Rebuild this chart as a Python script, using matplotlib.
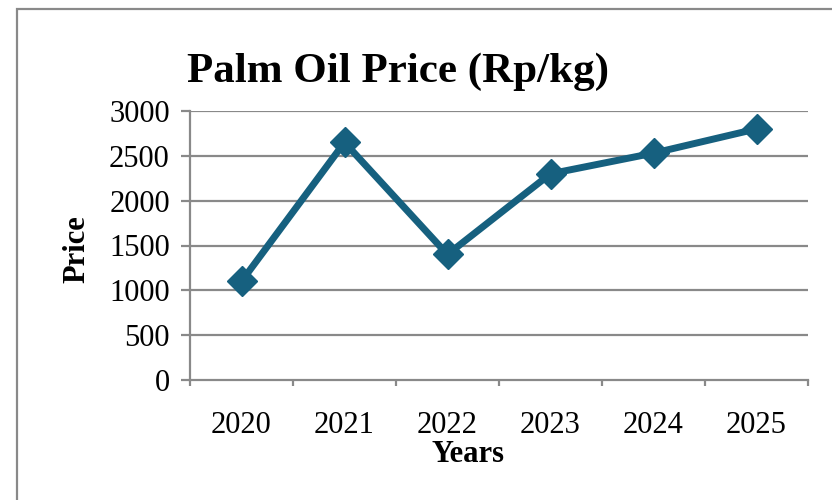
import matplotlib
matplotlib.use("Agg")
import matplotlib.pyplot as plt
import numpy as np
from matplotlib.patches import Rectangle

# datos
years = ["2020", "2021", "2022", "2023", "2024", "2025"]
price = [1100, 2650, 1400, 2300, 2530, 2800]
yticks = [0, 500, 1000, 1500, 2000, 2500, 3000]

plt.rcParams['font.family'] = ['Liberation Serif', 'DejaVu Serif']

gris = '#898989'
azul = '#16607f'

fig = plt.figure(figsize=(8.32, 5), dpi=100)
ax = fig.add_axes([190/832, 1 - 380/500, (808 - 190)/832, (380 - 111)/500])

x = np.arange(len(years))
ax.plot(x, price, color=azul, lw=5, marker='D', markersize=15,
        markeredgecolor=azul, solid_joinstyle='miter', zorder=3)

ax.set_xlim(-0.5, len(years) - 0.5)
ax.set_ylim(0, 3000)
ax.set_yticks(yticks)
ax.set_yticklabels([str(v) for v in yticks], fontsize=22)
ax.set_xticks(x)
ax.set_xticklabels(years, fontsize=22)
ax.set_xticks(np.arange(-0.5, len(years)), minor=True)

# lineas de la cuadricula y ejes
for v in yticks[1:]:
    ax.axhline(v, color=gris, lw=1.6, zorder=1)
for s in ['top', 'right']:
    ax.spines[s].set_visible(False)
for s in ['left', 'bottom']:
    ax.spines[s].set_color(gris)
    ax.spines[s].set_linewidth(1.6)

ax.tick_params(axis='y', length=6.5, width=1.6, color=gris, pad=8)
ax.tick_params(axis='x', which='major', length=0, pad=22)
ax.tick_params(axis='x', which='minor', length=4.5, width=1.6, color=gris)

fig.text(398/832, 1 - 72/500, "Palm Oil Price (Rp/kg)", fontsize=31,
         fontweight='bold', ha='center', va='center')
fig.text(468/832, 1 - 455/500, "Years", fontsize=22, fontweight='bold',
         ha='center', va='center')
fig.text(77/832, 1 - 249/500, "Price", fontsize=22, fontweight='bold',
         rotation=90, ha='center', va='center')

# marco del grafico (cortado a la derecha y abajo)
fig.patches.append(Rectangle((17/832, -0.1), 1.1, 0.1 + 1 - 9/500,
                             transform=fig.transFigure, fill=False,
                             edgecolor=gris, lw=1.6))

fig.savefig("out.png", dpi=100)
